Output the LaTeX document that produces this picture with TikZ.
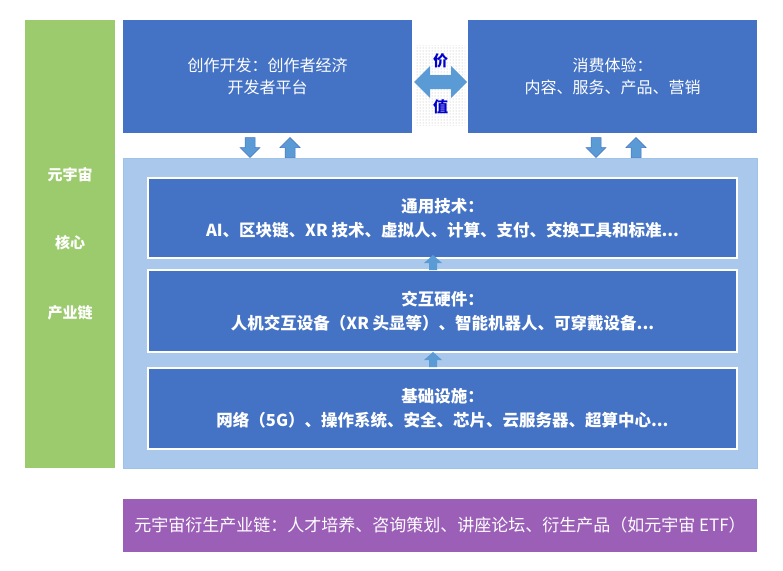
\documentclass[tikz,border=0pt]{standalone}
\usepackage{fontspec}
\newfontfamily\cjk{Noto Sans CJK SC}
\usetikzlibrary{patterns}
\definecolor{bluebox}{HTML}{4472C4}
\definecolor{lightbg}{HTML}{A9C8EB}
\definecolor{greenbox}{HTML}{9CCB6E}
\definecolor{purplebox}{HTML}{9B5FB8}
\definecolor{arrowblue}{HTML}{5B9BD5}
\tikzset{
 box/.style={fill=bluebox,draw=none,text=white,font=\cjk\fontsize{16}{22}\selectfont,align=center,inner sep=0},
 inner/.style={fill=bluebox,draw=white,line width=1.5pt,text=white,font=\cjk\bfseries\fontsize{16.5}{24}\selectfont,align=center,inner sep=0},
 side/.style={text=white,font=\cjk\bfseries\fontsize{15}{17}\selectfont},
 uparr/.pic={\filldraw[fill=arrowblue,draw=bluebox,line width=0.5pt] (-5,10)--(-5,0)--(-10,0)--(0,-10)--(10,0)--(5,0)--(5,10)--cycle;},
 smallarr/.pic={\fill[arrowblue] (-4,7)--(-4,0)--(-9,0)--(0,-8)--(9,0)--(4,0)--(4,7)--cycle;},
}
\begin{document}
\begin{tikzpicture}[x=1pt,y=-1pt]
\useasboundingbox (0,0) rectangle (783,570);
\fill[white] (0,0) rectangle (783,570);
\node[fill=greenbox,minimum width=90pt,minimum height=448pt,inner sep=0] (green) at (70,244) {};
\node[side] (g1) at (70,175) {元宇宙};
\node[side] (g2) at (70,243) {核心};
\node[side] (g3) at (70,313) {产业链};
\node[box,minimum width=289pt,minimum height=113pt] (tl) at (267.5,76.5) {创作开发：创作者经济\\开发者平台};
\node[box,minimum width=289pt,minimum height=113pt] (tr) at (612.5,76.5) {消费体验：\\内容、服务、产品、营销};
\fill[pattern=dots,pattern color=gray!60] (416,45) rectangle (465,125);
\fill[arrowblue] (414,82)--(430,66)--(430,75)--(451,75)--(451,66)--(467,82)--(451,98)--(451,89)--(430,89)--(430,98)--cycle;
\node[text=blue!80!black,font=\cjk\bfseries\fontsize{15}{17}\selectfont] (v1) at (440.5,61) {价};
\node[text=blue!80!black,font=\cjk\bfseries\fontsize{15}{17}\selectfont] (v2) at (440.5,107) {值};
\node[fill=lightbg,draw=arrowblue!60,minimum width=634pt,minimum height=310pt,inner sep=0] (big) at (440,313) {};
\pic[rotate=180] at (250,147.5) {uparr};
\pic at (290,147.5) {uparr};
\pic[rotate=180] at (596,147.5) {uparr};
\pic at (636,147.5) {uparr};
\node[inner,minimum width=589pt,minimum height=80pt] (t1) at (442.5,218) {通用技术：\\AI、区块链、XR 技术、虚拟人、计算、支付、交换工具和标准...};
\node[inner,minimum width=589pt,minimum height=82pt] (t2) at (442.5,311) {交互硬件：\\人机交互设备（XR 头显等）、智能机器人、可穿戴设备...};
\node[inner,minimum width=589pt,minimum height=81pt] (t3) at (442.5,408.5) {基础设施：\\网络（5G）、操作系统、安全、芯片、云服务器、超算中心...};
\pic at (433,263) {smallarr};
\pic at (433,360) {smallarr};
\node[fill=purplebox,text=white,minimum width=634pt,minimum height=53pt,inner sep=0,font=\cjk\fontsize{17}{19}\selectfont] (pb) at (440,525.5) {元宇宙衍生产业链：人才培养、咨询策划、讲座论坛、衍生产品（如元宇宙 ETF）};
\end{tikzpicture}
\end{document}
